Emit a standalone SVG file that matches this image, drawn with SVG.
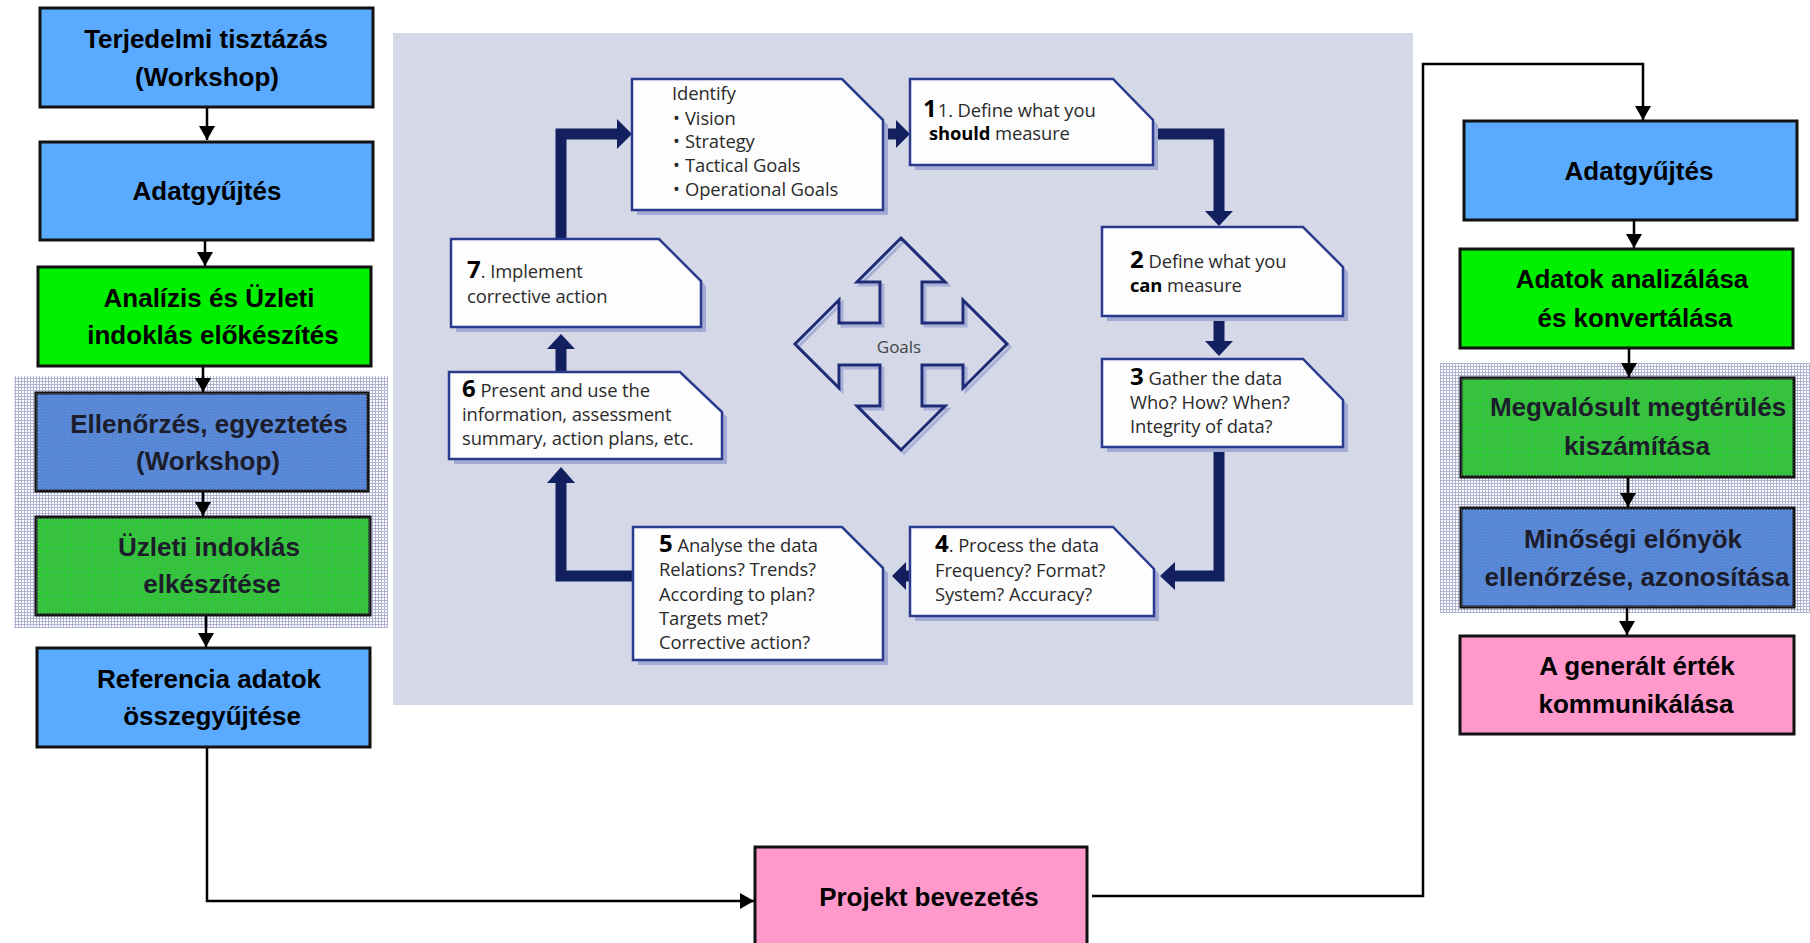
<svg xmlns="http://www.w3.org/2000/svg" width="1810" height="943" viewBox="0 0 1810 943">
<defs>
<style>
.box{stroke:#111;stroke-width:3}
.blue{fill:#5aaaff}
.green{fill:#00f000}
.pink{fill:#ff99cc}
.hblue{fill:#4d86da}
.hgreen{fill:#25cc25}
.lbl{font-family:"Liberation Sans",Arial,sans-serif;font-weight:bold;font-size:26px;fill:#000;text-anchor:middle}
.hl{fill:#1c1c2a}
.conn{fill:none;stroke:#000;stroke-width:2.5}
.nb{fill:#fdfdfe;stroke:#2a3b8f;stroke-width:2.5}
.ns{fill:#a3abd3}
.nt{font-family:"Open Sans","Noto Sans",sans-serif;font-size:18.4px;fill:#2a2a2a;letter-spacing:-0.1px}
.num{font-family:"Open Sans","Noto Sans",sans-serif;font-weight:bold;font-size:24px;fill:#000}
.bo{font-weight:bold;fill:#000}
.thick{fill:none;stroke:#13205f;stroke-width:11}
.head{fill:#13205f}
</style>
<pattern id="hatch" width="3" height="3" patternUnits="userSpaceOnUse">
<rect x="0" y="0" width="3" height="1" fill="#8d91bd"/>
<rect x="0" y="0" width="1" height="3" fill="#8d91bd"/>
</pattern>
<marker id="ah" markerWidth="14" markerHeight="16" refX="14" refY="8" orient="auto" markerUnits="userSpaceOnUse">
<path d="M0,0 L14,8 L0,16 Z" fill="#000"/>
</marker>
</defs>
<rect width="1810" height="943" fill="#fff"/>

<!-- hatched regions -->
<g id="hatch-left">
<rect x="14" y="376" width="374" height="252" fill="#fff"/>
<rect x="14" y="376" width="374" height="252" fill="url(#hatch)" opacity="0.7"/>
</g>
<g id="hatch-right">
<rect x="1440" y="363" width="370" height="250" fill="#fff"/>
<rect x="1440" y="363" width="370" height="250" fill="url(#hatch)" opacity="0.7"/>
</g>

<!-- central picture -->
<g id="center-image">
<rect x="393" y="33" width="1020" height="672" fill="#d5d8e7"/>
</g>

<g id="goals">
<path transform="translate(3,3)" fill="none" stroke="#a8b0d8" stroke-width="3" d="M901,238 L945,282 L922,282 L922,323 L963,323 L963,300 L1007,344 L963,388 L963,365 L922,365 L922,406 L945,406 L901,450 L857,406 L880,406 L880,365 L839,365 L839,388 L795,344 L839,300 L839,323 L880,323 L880,282 L857,282 Z"/>
<path fill="none" stroke="#1e2c78" stroke-width="3" d="M901,238 L945,282 L922,282 L922,323 L963,323 L963,300 L1007,344 L963,388 L963,365 L922,365 L922,406 L945,406 L901,450 L857,406 L880,406 L880,365 L839,365 L839,388 L795,344 L839,300 L839,323 L880,323 L880,282 L857,282 Z"/>
<text x="899" y="353" text-anchor="middle" font-family="'Open Sans','Noto Sans',sans-serif" font-size="17" fill="#444">Goals</text>
</g>

<g id="thick-connectors">
<path class="thick" d="M561,239 V134 H619"/>
<path class="head" d="M617,119 L632,134 L617,149 Z"/>
<path class="thick" d="M883,134 H898"/>
<path class="head" d="M896,120 L910,134 L896,148 Z"/>
<path class="thick" d="M1153,134 H1219 V213"/>
<path class="head" d="M1205,211 L1219,226 L1233,211 Z"/>
<path class="thick" d="M1219,321 V343"/>
<path class="head" d="M1205,341 L1219,356 L1233,341 Z"/>
<path class="thick" d="M1219,452 V576 H1173"/>
<path class="head" d="M1175,562 L1160,576 L1175,590 Z"/>
<path class="thick" d="M912,576 H904"/>
<path class="head" d="M906,562 L892,576 L906,590 Z"/>
<path class="thick" d="M633,576 H561 V481"/>
<path class="head" d="M547,483 L561,467 L575,483 Z"/>
<path class="thick" d="M561,372 V347"/>
<path class="head" d="M547,349 L561,334 L575,349 Z"/>
</g>

<g id="step-identify">
<path class="ns" transform="translate(5,5)" d="M632,79 H842 L883,120 V210 H632 Z"/>
<path class="nb" d="M632,79 H842 L883,120 V210 H632 Z"/>
<text class="nt" x="672" y="100">Identify</text>
<text class="nt" x="673" y="125">• <tspan x="685">Vision</tspan></text>
<text class="nt" x="673" y="148">• <tspan x="685">Strategy</tspan></text>
<text class="nt" x="673" y="172">• <tspan x="685">Tactical Goals</tspan></text>
<text class="nt" x="673" y="196">• <tspan x="685">Operational Goals</tspan></text>
</g>
<g id="step-1">
<path class="ns" transform="translate(5,5)" d="M910,79 H1113 L1153,120 V165 H910 Z"/>
<path class="nb" d="M910,79 H1113 L1153,120 V165 H910 Z"/>
<text x="923" y="117"><tspan class="num">1</tspan><tspan class="nt" dx="1">1. Define what you</tspan></text>
<text class="nt" x="929" y="140"><tspan class="bo">should</tspan> measure</text>
</g>
<g id="step-2">
<path class="ns" transform="translate(5,5)" d="M1102,227 H1303 L1343,267 V316 H1102 Z"/>
<path class="nb" d="M1102,227 H1303 L1343,267 V316 H1102 Z"/>
<text x="1130" y="268"><tspan class="num">2</tspan><tspan class="nt"> Define what you</tspan></text>
<text class="nt" x="1130" y="292"><tspan class="bo">can</tspan> measure</text>
</g>
<g id="step-3">
<path class="ns" transform="translate(5,5)" d="M1102,359 H1303 L1343,400 V447 H1102 Z"/>
<path class="nb" d="M1102,359 H1303 L1343,400 V447 H1102 Z"/>
<text x="1130" y="385"><tspan class="num">3</tspan><tspan class="nt"> Gather the data</tspan></text>
<text class="nt" x="1130" y="409">Who? How? When?</text>
<text class="nt" x="1130" y="433">Integrity of data?</text>
</g>
<g id="step-4">
<path class="ns" transform="translate(5,5)" d="M910,527 H1113 L1154,569 V616 H910 Z"/>
<path class="nb" d="M910,527 H1113 L1154,569 V616 H910 Z"/>
<text x="935" y="552"><tspan class="num">4</tspan><tspan class="nt">. Process the data</tspan></text>
<text class="nt" x="935" y="577">Frequency? Format?</text>
<text class="nt" x="935" y="601">System? Accuracy?</text>
</g>
<g id="step-5">
<path class="ns" transform="translate(5,5)" d="M633,527 H842 L883,568 V660 H633 Z"/>
<path class="nb" d="M633,527 H842 L883,568 V660 H633 Z"/>
<text x="659" y="552"><tspan class="num">5</tspan><tspan class="nt"> Analyse the data</tspan></text>
<text class="nt" x="659" y="576">Relations? Trends?</text>
<text class="nt" x="659" y="601">According to plan?</text>
<text class="nt" x="659" y="625">Targets met?</text>
<text class="nt" x="659" y="649">Corrective action?</text>
</g>
<g id="step-6">
<path class="ns" transform="translate(5,5)" d="M449,372 H680 L722,412 V459 H449 Z"/>
<path class="nb" d="M449,372 H680 L722,412 V459 H449 Z"/>
<text x="462" y="397"><tspan class="num">6</tspan><tspan class="nt"> Present and use the</tspan></text>
<text class="nt" x="462" y="421">information, assessment</text>
<text class="nt" x="462" y="445">summary, action plans, etc.</text>
</g>
<g id="step-7">
<path class="ns" transform="translate(5,5)" d="M451,239 H659 L701,281 V327 H451 Z"/>
<path class="nb" d="M451,239 H659 L701,281 V327 H451 Z"/>
<text x="467" y="278"><tspan class="num">7</tspan><tspan class="nt">. Implement</tspan></text>
<text class="nt" x="467" y="303">corrective action</text>
</g>

<!-- connectors of the outer flow -->
<g id="connectors">
<path class="conn" d="M207,107 V140" marker-end="url(#ah)"/>
<path class="conn" d="M205,240 V266" marker-end="url(#ah)"/>
<path class="conn" d="M203,366 V392" marker-end="url(#ah)"/>
<path class="conn" d="M203,491 V516" marker-end="url(#ah)"/>
<path class="conn" d="M206,615 V647" marker-end="url(#ah)"/>
<path class="conn" d="M207,747 V901 H754" marker-end="url(#ah)"/>
<path class="conn" d="M1092,896 H1423 V64 H1643 V120" marker-end="url(#ah)"/>
<path class="conn" d="M1634,220 V248" marker-end="url(#ah)"/>
<path class="conn" d="M1629,348 V377" marker-end="url(#ah)"/>
<path class="conn" d="M1628,477 V507" marker-end="url(#ah)"/>
<path class="conn" d="M1627,607 V635" marker-end="url(#ah)"/>
</g>

<g id="n-terjedelmi">
<rect class="box blue" x="40" y="8" width="333" height="99"/>
<text class="lbl" x="206" y="48">Terjedelmi tisztázás</text>
<text class="lbl" x="207" y="86">(Workshop)</text>
</g>
<g id="n-adatgyujtes-left">
<rect class="box blue" x="40" y="142" width="333" height="98"/>
<text class="lbl" x="207" y="200">Adatgyűjtés</text>
</g>
<g id="n-analizis">
<rect class="box green" x="38" y="267" width="333" height="99"/>
<text class="lbl" x="209" y="307">Analízis és Üzleti</text>
<text class="lbl" x="213" y="344">indoklás előkészítés</text>
</g>
<g id="n-ellenorzes">
<rect class="box hblue" x="36" y="393" width="332" height="98"/>
<rect x="36" y="393" width="332" height="98" fill="url(#hatch)" opacity="0.3"/>
<text class="lbl hl" x="209" y="433">Ellenőrzés, egyeztetés</text>
<text class="lbl hl" x="208" y="470">(Workshop)</text>
</g>
<g id="n-uzleti">
<rect class="box hgreen" x="36" y="517" width="334" height="98"/>
<rect x="36" y="517" width="334" height="98" fill="url(#hatch)" opacity="0.3"/>
<text class="lbl hl" x="209" y="556">Üzleti indoklás</text>
<text class="lbl hl" x="212" y="593">elkészítése</text>
</g>
<g id="n-referencia">
<rect class="box blue" x="37" y="648" width="333" height="99"/>
<text class="lbl" x="209" y="688">Referencia adatok</text>
<text class="lbl" x="212" y="725">összegyűjtése</text>
</g>
<g id="n-projekt">
<rect class="box pink" x="755" y="847" width="332" height="100"/>
<text class="lbl" x="929" y="906">Projekt bevezetés</text>
</g>
<g id="n-adatgyujtes-right">
<rect class="box blue" x="1464" y="121" width="333" height="99"/>
<text class="lbl" x="1639" y="180">Adatgyűjtés</text>
</g>
<g id="n-adatok">
<rect class="box green" x="1460" y="249" width="333" height="99"/>
<text class="lbl" x="1632" y="288">Adatok analizálása</text>
<text class="lbl" x="1635" y="327">és konvertálása</text>
</g>
<g id="n-megvalosult">
<rect class="box hgreen" x="1461" y="378" width="333" height="99"/>
<rect x="1461" y="378" width="333" height="99" fill="url(#hatch)" opacity="0.3"/>
<text class="lbl hl" x="1638" y="416">Megvalósult megtérülés</text>
<text class="lbl hl" x="1637" y="455">kiszámítása</text>
</g>
<g id="n-minosegi">
<rect class="box hblue" x="1461" y="508" width="333" height="99"/>
<rect x="1461" y="508" width="333" height="99" fill="url(#hatch)" opacity="0.3"/>
<text class="lbl hl" x="1633" y="548">Minőségi előnyök</text>
<text class="lbl hl" x="1637" y="586">ellenőrzése, azonosítása</text>
</g>
<g id="n-generalt">
<rect class="box pink" x="1460" y="636" width="334" height="98"/>
<text class="lbl" x="1637" y="675">A generált érték</text>
<text class="lbl" x="1636" y="713">kommunikálása</text>
</g>
</svg>
